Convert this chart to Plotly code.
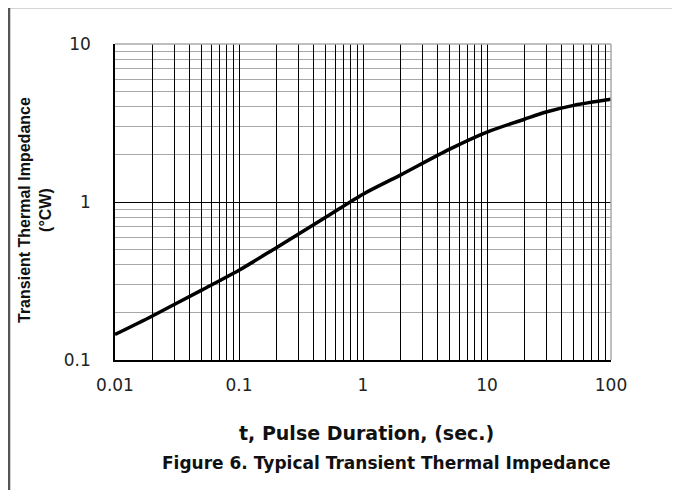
import plotly.graph_objects as go

# Data
pulse_duration = [0.01, 0.02, 0.05, 0.1, 0.2, 0.5, 1, 2, 5, 10, 20, 30, 50, 100]
thermal_impedance = [0.145, 0.19, 0.277, 0.37, 0.514, 0.80, 1.12, 1.48, 2.16, 2.77, 3.34, 3.71, 4.09, 4.47]

x_major = [0.01, 0.1, 1, 10, 100]
x_labels = ["0.01", "0.1", "1", "10", "100"]
y_major = [0.1, 1, 10]
y_labels = ["0.1", "1", "10"]

x_grid = [m * 10 ** e for e in range(-2, 2) for m in range(1, 10)] + [100]
x_text = [x_labels[x_major.index(v)] if v in x_major else "" for v in x_grid]
y_minor = [m * 10 ** e for e in range(-1, 1) for m in range(2, 10)]

fig = go.Figure()
fig.add_trace(go.Scatter(
    x=pulse_duration, y=thermal_impedance, mode="lines",
    line=dict(color="black", width=3.5, shape="spline", smoothing=0.8),
    showlegend=False, hoverinfo="skip"))

OFF = 8  # page body margin
W, H = 680 - OFF, 490 - OFF
L, R, T, B = 115 - OFF, 611 - OFF, 44 - OFF, 360 - OFF
pw, ph = R - L, B - T

def px(x):
    return (x - OFF - L) / pw

def py(y):
    return (B - (y - OFF)) / ph

tick_font = dict(family="DejaVu Sans, Liberation Sans, sans-serif", size=17, color="#222")
title_family = "DejaVu Sans, Liberation Sans, sans-serif"

fig.update_layout(
    width=W, height=H,
    margin=dict(l=L, r=W - R, t=T, b=H - B, pad=0),
    paper_bgcolor="white", plot_bgcolor="white",
    xaxis=dict(type="log", range=[-2, 2], tickmode="array", tickvals=x_grid, ticktext=x_text,
               showgrid=True, gridcolor="black", gridwidth=1, ticks="outside", ticklen=9,
               tickcolor="rgba(0,0,0,0)", tickfont=tick_font,
               showline=True, linecolor="black", linewidth=1.5, zeroline=False),
    yaxis=dict(type="log", range=[-1, 1], tickmode="array", tickvals=y_major, ticktext=y_labels,
               showgrid=True, gridcolor="black", gridwidth=1, ticks="outside", ticklen=19,
               tickcolor="rgba(0,0,0,0)", tickfont=tick_font,
               showline=True, linecolor="black", linewidth=1.5, zeroline=False,
               minor=dict(tickmode="array", tickvals=y_minor, showgrid=True,
                          gridcolor="#a8a8a8", gridwidth=1, ticks="")),
    shapes=[
        dict(type="line", xref="paper", yref="paper", x0=0, x1=1, y0=1, y1=1,
             line=dict(color="#a8a8a8", width=1.5), layer="above"),
        dict(type="line", xref="paper", yref="paper", x0=1, x1=1, y0=0, y1=1,
             line=dict(color="#a8a8a8", width=1.5), layer="above"),
        dict(type="rect", xref="paper", yref="paper", x0=px(9), x1=px(674), y0=py(7), y1=py(500),
             line=dict(color="#555", width=2.5), layer="below"),
    ],
    annotations=[
        dict(text="<b>t, Pulse Duration, (sec.)</b>", xref="paper", yref="paper",
             x=px(366), y=py(433), showarrow=False, xanchor="center", yanchor="middle",
             font=dict(family=title_family, size=19, color="#111")),
        dict(text="<b>Figure 6. Typical Transient Thermal Impedance</b>", xref="paper", yref="paper",
             x=px(386), y=py(463), showarrow=False, xanchor="center", yanchor="middle",
             font=dict(family=title_family, size=17, color="#111")),
        dict(text="<b>Transient Thermal Impedance<br>(°CW)</b>", xref="paper", yref="paper",
             x=px(35), y=py(210), showarrow=False, xanchor="center", yanchor="middle",
             textangle=-90,
             font=dict(family="Liberation Sans Narrow, Arial Narrow, Liberation Sans, sans-serif",
                       size=16, color="#111")),
    ],
)

fig.write_html("out.html")
